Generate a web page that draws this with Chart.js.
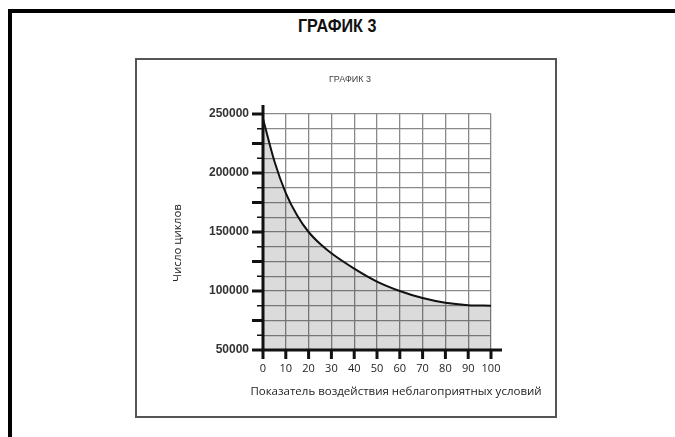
<!DOCTYPE html>
<html>
<head>
<meta charset="utf-8">
<script src="https://cdn.jsdelivr.net/npm/chart.js@4.4.1/dist/chart.umd.min.js"></script>
<style>
  body { margin: 0; background: #fff; width: 675px; height: 437px; overflow: hidden; position: relative; font-family: "Liberation Sans", Arial, sans-serif; }
  #frame { position: absolute; left: 8px; top: 9px; right: -10px; bottom: -10px; border-left: 4px solid #000; border-top: 4px solid #000; }
  #heading { position: absolute; left: 0; width: 675px; top: 15px; text-align: center; font-weight: bold; font-size: 19px; color: #111; }
  #heading span { display: inline-block; transform: scaleX(0.85); }
  #box { position: absolute; left: 135px; top: 58px; width: 422px; height: 360px; box-sizing: border-box; border: 2px solid #555; }
  #wrap { position: absolute; left: 137px; top: 60px; width: 418px; height: 356px; }
</style>
</head>
<body>
<div id="frame"></div>
<div id="heading"><span>ГРАФИК 3</span></div>
<div id="box"></div>
<div id="wrap"><canvas id="myChart"></canvas></div>

<script>
// curve values
const conditionIndex = [0, 5, 10, 15, 20, 25, 30, 40, 50, 60, 70, 80, 90, 100];
const cycleCount = [246000, 210000, 183000, 164000, 150000, 140000, 132000, 119000, 108000, 100000, 94000, 90000, 88000, 87500];

const xTicks = [0, 10, 20, 30, 40, 50, 60, 70, 80, 90, 100];
const yTickLabels = [50000, 100000, 150000, 200000, 250000];

const chartTitle = 'ГРАФИК 3';
const yTitle = 'Число циклов';
const xTitle = 'Показатель воздействия неблагоприятных условий';

const yStep = 12500;

// black axes with tick marks, drawn over the grid
const axisLines = {
    id: 'axisLines',
    afterDatasetsDraw(chart) {
        const { ctx, chartArea, scales } = chart;
        const x = scales.x, y = scales.y;
        const left = chartArea.left, bottom = chartArea.bottom;
        ctx.save();
        ctx.strokeStyle = '#111';

        for (let v = y.min; v <= y.max; v += yStep) {
            const py = y.getPixelForValue(v);
            const major = v % 25000 === 0;
            ctx.lineWidth = major ? 3 : 1.5;
            ctx.beginPath();
            ctx.moveTo(left - (major ? 11 : 6), py);
            ctx.lineTo(left, py);
            ctx.stroke();
        }

        ctx.lineWidth = 3;
        xTicks.forEach(v => {
            const px = x.getPixelForValue(v);
            ctx.beginPath();
            ctx.moveTo(px, bottom);
            ctx.lineTo(px, bottom + 9);
            ctx.stroke();
        });

        ctx.beginPath();
        ctx.moveTo(left, bottom + 1.5);
        ctx.lineTo(left, chartArea.top - 9);
        ctx.moveTo(left - 1.5, bottom);
        ctx.lineTo(chartArea.right + 11, bottom);
        ctx.stroke();
        ctx.restore();
    },
    afterDraw(chart) {
        const ctx = chart.ctx;
        ctx.save();
        ctx.fillStyle = '#444';
        ctx.textAlign = 'center';
        ctx.textBaseline = 'middle';
        ctx.font = '9px "Liberation Sans", Arial, sans-serif';
        ctx.fillText(chartTitle, 213, 20);

        ctx.fillStyle = '#222';
        ctx.font = '11.5px "Open Sans", "Liberation Sans", sans-serif';
        ctx.fillText(xTitle, 259, 332);

        ctx.translate(41, 183);
        ctx.rotate(-Math.PI / 2);
        ctx.fillText(yTitle, 0, 0);
        ctx.restore();
    }
};

const ctx = document.getElementById('myChart');

new Chart(ctx, {
    type: 'line',
    data: {
        datasets: [{
            data: conditionIndex.map((c, i) => ({ x: c, y: cycleCount[i] })),
            borderColor: '#111',
            borderWidth: 2,
            backgroundColor: 'rgba(0,0,0,0.14)',
            fill: 'start',
            pointRadius: 0,
            cubicInterpolationMode: 'monotone'
        }]
    },
    options: {
        responsive: true,
        maintainAspectRatio: false,
        animation: false,
        layout: { padding: { top: 54, right: 64, left: 0, bottom: 0 } },
        plugins: {
            legend: { display: false },
            tooltip: { enabled: false }
        },
        scales: {
            x: {
                type: 'linear',
                min: 0,
                max: 100,
                border: { display: false },
                grid: { color: '#8a8a8a', lineWidth: 1.3, drawTicks: false },
                ticks: {
                    stepSize: 10,
                    padding: 12,
                    autoSkip: false,
                    maxRotation: 0,
                    color: '#222',
                    font: { family: '"Open Sans", "Liberation Sans", sans-serif', size: 11 }
                },
                afterFit(scale) { scale.height = 66; }
            },
            y: {
                min: 50000,
                max: 250000,
                border: { display: false },
                grid: { color: '#8a8a8a', lineWidth: 1.3, drawTicks: false },
                ticks: {
                    stepSize: yStep,
                    padding: 14,
                    autoSkip: false,
                    color: '#333',
                    font: { family: '"Liberation Sans", Arial, sans-serif', size: 12, weight: 'bold' },
                    callback: v => yTickLabels.includes(v) ? String(v) : ''
                },
                afterFit(scale) { scale.width = 126; }
            }
        }
    },
    plugins: [axisLines]
});
</script>
</body>
</html>
